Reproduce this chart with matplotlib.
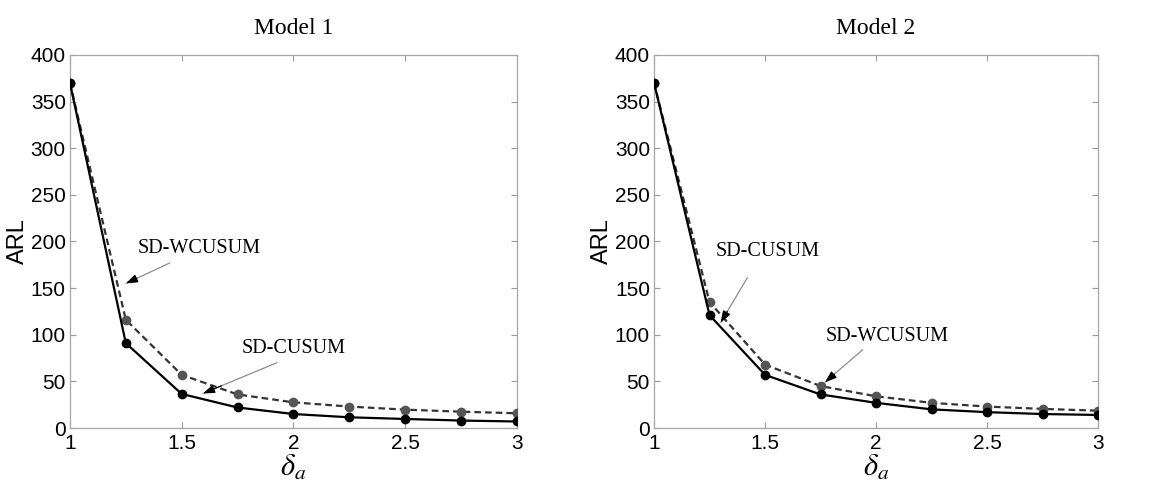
import numpy as np
import matplotlib
matplotlib.use("Agg")
import matplotlib.pyplot as plt

# shift values delta_a
delta = [1.0, 1.25, 1.5, 1.75, 2.0, 2.25, 2.5, 2.75, 3.0]

# Model 1 ARL values
m1_cusum = [370, 91, 36.5, 22, 15, 11.5, 9.7, 8, 7]
m1_wcusum = [370, 116, 57, 36, 27.5, 23, 19.7, 17.5, 15.8]

# Model 2 ARL values
m2_cusum = [370, 121, 57, 36, 27, 20, 17, 15, 14]
m2_wcusum = [370, 135, 68, 45, 34, 27, 23, 20.5, 18.6]

titles = ["Model 1", "Model 2"]
yticks = [0, 50, 100, 150, 200, 250, 300, 350, 400]
xticks = [1, 1.5, 2, 2.5, 3]
xticklabels = ["1", "1.5", "2", "2.5", "3"]

plt.rcParams['mathtext.fontset'] = 'stix'

fig = plt.figure(figsize=(11.64, 4.82), dpi=100)
ax1 = fig.add_axes([0.0601, 0.112, 0.384, 0.774])
ax2 = fig.add_axes([0.5619, 0.112, 0.3814, 0.774])


def annotate_arrow(ax, label, text_xy, tail_xy, tip_xy):
    ax.text(text_xy[0], text_xy[1], label, family="Liberation Serif",
            fontsize=14.5, ha="center", va="center")
    # thin gray shaft
    ax.annotate("", xy=tip_xy, xytext=tail_xy,
                arrowprops=dict(arrowstyle="-", color="0.55", lw=0.9,
                                shrinkA=0, shrinkB=0))
    # small black head
    tx, ty = tip_xy
    sx, sy = tail_xy
    back = (tx + (sx - tx) * 0.25, ty + (sy - ty) * 0.25)
    ax.annotate("", xy=tip_xy, xytext=back,
                arrowprops=dict(arrowstyle="-|>,head_length=0.7,head_width=0.25",
                                color="black", lw=0.9, shrinkA=0, shrinkB=0))


for ax, title, cus, wcus in [(ax1, titles[0], m1_cusum, m1_wcusum),
                             (ax2, titles[1], m2_cusum, m2_wcusum)]:
    ax.plot(delta, wcus, color="#333333", lw=1.6, dashes=(3, 1.8),
            marker="o", ms=6, mfc="#555555", mec="#555555", zorder=3)
    ax.plot(delta, cus, color="black", lw=1.6,
            marker="o", ms=6, mfc="black", mec="black", zorder=4)
    ax.set_xlim(1, 3)
    ax.set_ylim(0, 400)
    ax.set_xticks(xticks)
    ax.set_xticklabels(xticklabels, family="Liberation Sans", fontsize=15)
    ax.set_yticks(yticks)
    ax.set_yticklabels([str(v) for v in yticks], family="Liberation Sans",
                       fontsize=15)
    ax.tick_params(direction="in", top=True, right=True, length=4,
                   color="0.6")
    ax.tick_params(axis="x", pad=4)
    ax.tick_params(axis="y", pad=3)
    for sp in ax.spines.values():
        sp.set_color("0.65")
        sp.set_linewidth(0.9)
    ax.set_title(title, family="Liberation Serif", fontsize=17, pad=15)
    ax.set_ylabel("ARL", family="Liberation Sans", fontsize=17, labelpad=1)
    ax.set_xlabel(r"$\delta_a$", fontsize=22, labelpad=0)

annotate_arrow(ax1, "SD-WCUSUM", (1.58, 193), (1.447, 177), (1.25, 155))
annotate_arrow(ax1, "SD-CUSUM", (2.0, 85), (1.926, 70), (1.595, 37))
annotate_arrow(ax2, "SD-CUSUM", (1.51, 189), (1.42, 161), (1.30, 113))
annotate_arrow(ax2, "SD-WCUSUM", (2.05, 98), (1.94, 84), (1.77, 49))

fig.savefig("out.png", dpi=100)
